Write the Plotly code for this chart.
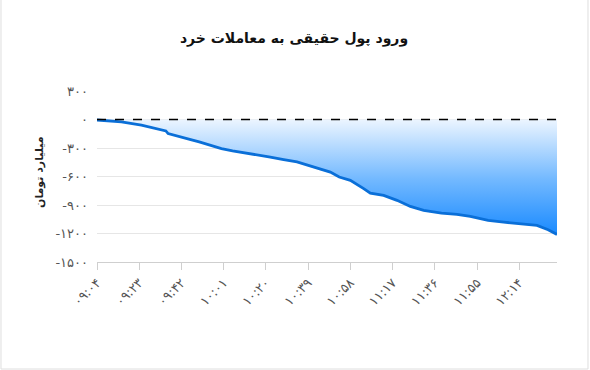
import plotly.graph_objects as go

# ---- data ----
times = ["09:04", "09:15", "09:24", "09:30", "09:35", "09:36", "09:41", "09:47",
         "09:50", "09:55", "10:00", "10:05", "10:13", "10:22", "10:28", "10:34",
         "10:38", "10:46", "10:49", "10:53", "10:58", "11:04", "11:07", "11:13",
         "11:19", "11:25", "11:31", "11:39", "11:46", "11:52", "12:00", "12:07",
         "12:13", "12:22", "12:27", "12:31"]
values = [-5, -25, -60, -95, -120, -148, -183, -218,
          -236, -271, -306, -331, -359, -395, -422, -447,
          -475, -535, -553, -606, -640, -728, -775, -799,
          -851, -915, -957, -985, -999, -1020, -1062, -1080,
          -1097, -1115, -1160, -1210]

tick_times = ["09:04", "09:23", "09:42", "10:01", "10:20", "10:39",
              "10:58", "11:17", "11:36", "11:55", "12:14"]
tick_labels = ["۰۹:۰۴", "۰۹:۲۳", "۰۹:۴۲", "۱۰:۰۱", "۱۰:۲۰", "۱۰:۳۹",
               "۱۰:۵۸", "۱۱:۱۷", "۱۱:۳۶", "۱۱:۵۵", "۱۲:۱۴"]
y_ticks = [300, 0, -300, -600, -900, -1200, -1500]
y_tick_labels = ["۳۰۰", "۰", "-۳۰۰", "-۶۰۰", "-۹۰۰", "-۱۲۰۰", "-۱۵۰۰"]

title = "ورود پول حقیقی به معاملات خرد"
y_title = "میلیارد تومان"


def to_min(t):
    h, m = t.split(":")
    return int(h) * 60 + int(m) - (9 * 60 + 4)


x = [to_min(t) for t in times]
tick_x = [to_min(t) for t in tick_times]
x_end = to_min("12:31")

FONT = "DejaVu Sans"

fig = go.Figure()
fig.add_trace(go.Scatter(
    x=x, y=values, mode="lines",
    line=dict(color="#0a6fd8", width=2.8),
    fill="tozeroy",
    fillgradient=dict(type="vertical",
                      colorscale=[[0, "rgb(20,135,255)"], [0.5, "rgb(115,185,255)"],
                                  [1, "rgb(236,245,255)"]],
                      start=-1250, stop=0),
    hoverinfo="skip",
))

fig.add_shape(type="line", xref="x", yref="y", x0=0, x1=x_end, y0=0, y1=0,
              line=dict(color="black", width=1.5, dash="dash"), layer="above")

# faint page border
fig.add_shape(type="path", xref="paper", yref="paper",
              path="M %f %f L %f %f L %f %f L %f %f" % (
                  (1 - 97) / 460, (262 + 20) / 171, (1 - 97) / 460, (262 - 369) / 171,
                  (588 - 97) / 460, (262 - 369) / 171, (588 - 97) / 460, (262 + 20) / 171),
              line=dict(color="#dedede", width=1))

fig.update_layout(
    width=590, height=370,
    margin=dict(l=97, r=33, t=91, b=108),
    paper_bgcolor="white", plot_bgcolor="white",
    showlegend=False,
    font=dict(family=FONT, color="#555"),
    title=dict(text="<b>" + title + "</b>", x=294 / 590, xanchor="center",
               y=1 - 38 / 370, yanchor="middle",
               font=dict(family=FONT, size=14, color="#111")),
    annotations=[dict(text="<b>" + y_title + "</b>", xref="paper", yref="paper",
                      x=(39 - 97) / 460, y=(262 - 172) / 171, textangle=-90,
                      showarrow=False, xanchor="center", yanchor="middle",
                      font=dict(family=FONT, size=11, color="#222"))],
)

fig.update_xaxes(
    range=[0, x_end], tickvals=tick_x, ticktext=tick_labels, tickangle=-45,
    showgrid=False, zeroline=False, showline=True, linecolor="#cfcfcf", linewidth=1,
    ticks="outside", ticklen=7, tickcolor="#cfcfcf",
    tickfont=dict(family=FONT, size=13, color="#555"),
)
fig.update_yaxes(
    range=[-1500, 300], tickvals=y_ticks, ticktext=y_tick_labels,
    showgrid=True, gridcolor="#e6e6e6", zeroline=False, showline=False,
    ticks="", ticklabelstandoff=8,
    tickfont=dict(family=FONT, size=13, color="#555"),
)

fig.write_html("out.html")
